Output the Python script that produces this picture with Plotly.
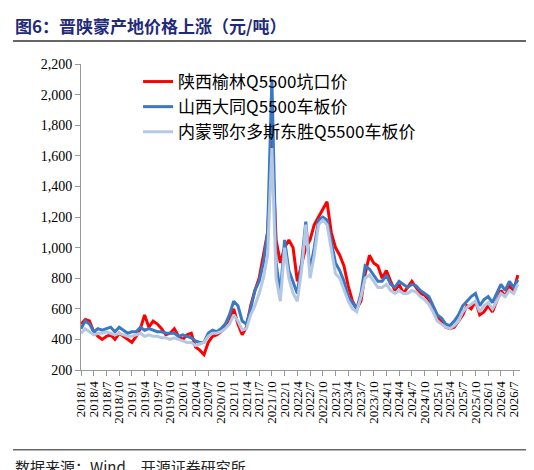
import plotly.graph_objects as go

# monthly, 2018/1 .. 2026/8
months = [f"{y}/{m}" for y in range(2018, 2027) for m in range(1, 13)][:104]

yulin = [
    500, 530, 520, 450, 420, 400, 420, 430, 400, 440, 420, 400,
    380, 420, 470, 560, 480, 520, 500, 470, 430, 440, 470, 420,
    400, 430, 440, 350, 330, 300, 380, 420, 430, 450, 480, 520,
    600, 500, 430, 480, 620, 720, 800, 950, 1100, 1700, 1050, 900,
    1000, 1050, 1000, 780, 900, 1000, 1050, 1150, 1200, 1250, 1300, 1100,
    1000, 950, 880, 750, 650, 600, 650, 830, 950, 900, 880, 800,
    850, 780, 720, 760, 700, 740, 780, 740, 700, 690, 660, 600,
    550, 520, 480, 470, 480, 520, 560, 620, 600, 650, 560, 580,
    620, 580, 650, 720, 680, 750, 720, 820,
]
datong = [
    470, 520, 500, 450, 470, 460, 470, 480, 450, 480, 460, 440,
    450, 450, 480, 460, 470, 460, 450, 450, 440, 440, 440, 420,
    430, 420, 410, 390, 380, 380, 440, 460, 450, 470, 500, 560,
    650, 620, 520, 500, 600, 720, 780, 900, 1100, 2100, 900, 700,
    1050, 850, 780, 700, 900, 1170, 850, 1000, 1180, 1200, 1180, 1050,
    900, 850, 780, 680, 640, 600, 700, 880, 860, 820, 780, 780,
    820, 760, 740, 780, 760, 740, 760, 750, 720, 700, 680, 620,
    560, 540, 500, 490, 520, 560, 620, 650, 680, 700, 620, 660,
    680, 640, 700, 760, 720, 780, 740, 790,
]
ordos = [
    440, 470, 450, 430, 440, 440, 450, 440, 430, 440, 430, 420,
    420, 430, 440, 420, 430, 420, 420, 410, 410, 400, 410, 400,
    390, 380, 380, 360, 370, 380, 420, 440, 440, 450, 470, 500,
    560, 520, 460, 470, 560, 620, 700, 800, 950, 1650, 800, 650,
    1000, 800, 700, 650, 850, 1150, 800, 950, 1150, 1180, 1150, 1000,
    830, 800, 720, 650, 600, 580, 680, 800, 820, 780, 740, 740,
    760, 720, 700, 720, 700, 700, 720, 710, 680, 660, 630, 580,
    520, 500, 480, 470, 490, 520, 580, 610, 630, 650, 580, 620,
    640, 600, 650, 700, 680, 720, 700, 760,
]
tick_labels = months[::3]

x = list(range(len(months)))
fig = go.Figure()
fig.add_trace(go.Scatter(x=x, y=yulin, mode="lines", name="陕西榆林Q5500坑口价",
                         line=dict(color="#ff0000", width=3)))
fig.add_trace(go.Scatter(x=x, y=datong, mode="lines", name="山西大同Q5500车板价",
                         line=dict(color="#3a78c4", width=3)))
fig.add_trace(go.Scatter(x=x, y=ordos, mode="lines", name="内蒙鄂尔多斯东胜Q5500车板价",
                         line=dict(color="#b4c8e4", width=3)))

fig.update_layout(
    width=534, height=470,
    margin=dict(l=73, r=22, t=56, b=108),
    paper_bgcolor="white", plot_bgcolor="white",
    font=dict(family="Noto Sans CJK SC", size=14, color="black"),
    showlegend=True,
    legend=dict(x=0.13, y=1.0, xanchor="left", yanchor="top",
                bgcolor="rgba(0,0,0,0)", font=dict(size=17), tracegroupgap=0),
)
fig.update_xaxes(
    tickmode="array", tickvals=x[::3], ticktext=tick_labels, tickangle=-90,
    range=[0, len(months) - 0.5], showgrid=False, zeroline=False, automargin=False,
    showline=True, linecolor="#999", ticks="outside", ticklen=5, tickcolor="#999",
    tickfont=dict(family="Liberation Serif", size=13),
)
fig.update_yaxes(
    range=[200, 2200], dtick=200, tickformat=",", showgrid=False, zeroline=False,
    automargin=False,
    showline=True, linecolor="#999", ticks="outside", ticklen=5, tickcolor="#999",
    tickfont=dict(family="Liberation Serif", size=14),
)

fig.add_annotation(text="<b>图6：晋陕蒙产地价格上涨（元/吨）</b>", xref="paper", yref="paper",
                   x=-0.155, y=1.127, xanchor="left", yanchor="middle", showarrow=False,
                   font=dict(size=17, color="#1f2a7a", family="Noto Sans CJK SC"))
fig.add_shape(type="line", xref="paper", yref="paper", x0=-0.155, x1=1.045, y0=1.075, y1=1.075,
              line=dict(color="#333", width=1.5))
fig.add_shape(type="line", xref="paper", yref="paper", x0=-0.155, x1=1.045, y0=-0.261, y1=-0.261,
              line=dict(color="#666", width=1.5))
fig.add_annotation(text="数据来源：Wind、开源证券研究所", xref="paper", yref="paper",
                   x=-0.155, y=-0.314, xanchor="left", yanchor="middle", showarrow=False,
                   font=dict(size=15, color="#222", family="Noto Sans CJK SC"))

fig.write_html("out.html")
